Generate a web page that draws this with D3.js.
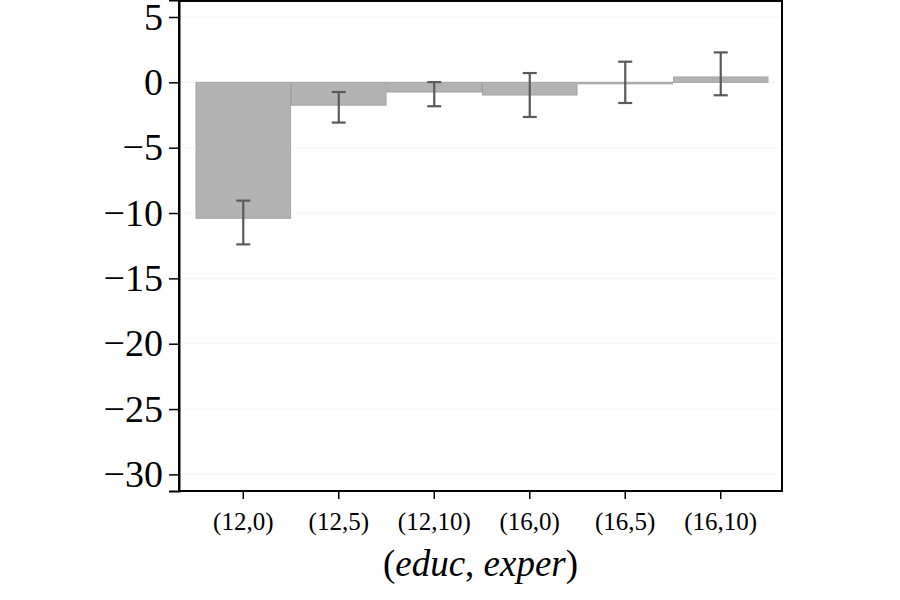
<!DOCTYPE html>
<html>
<head>
<meta charset="utf-8">
<script src="https://cdn.jsdelivr.net/npm/d3@7"></script>
<style>
  body { margin: 0; background: #fff; }
  text { font-family: "Liberation Serif", "DejaVu Serif", serif; }
</style>
</head>
<body>
<svg class="svg-main" width="900" height="600"></svg>
<script>
const categories = ["(12,0)", "(12,5)", "(12,10)", "(16,0)", "(16,5)", "(16,10)"];
const effects = [-10.4, -1.75, -0.74, -0.97, -0.05, 0.41];
const ciLow = [-12.4, -3.08, -1.83, -2.65, -1.58, -0.99];
const ciHigh = [-9.05, -0.74, 0.02, 0.71, 1.58, 2.29];
const yTicks = [5, 0, -5, -10, -15, -20, -25, -30];

const svg = d3.select(".svg-main");

const frame = { left: 179, right: 782, top: 1, bottom: 491 };

const x = d3.scaleBand()
  .domain(categories)
  .range([196, 768])
  .paddingInner(0.01);

const y = d3.scaleLinear()
  .domain([-31.27, 6.3])
  .range([frame.bottom, 0]);

const rows = categories.map((c, i) => ({
  cat: c, value: effects[i], lo: ciLow[i], hi: ciHigh[i]
}));

// grid
svg.append("g")
  .selectAll("line")
  .data(yTicks)
  .enter().append("line")
    .attr("x1", frame.left + 6)
    .attr("x2", frame.right - 3)
    .attr("y1", (d) => y(d))
    .attr("y2", (d) => y(d))
    .attr("stroke", "#d9d9d9")
    .attr("stroke-width", 1)
    .attr("stroke-dasharray", "1,3");

// bars
svg.append("g")
  .selectAll("rect")
  .data(rows)
  .enter().append("rect")
    .attr("x", (d) => x(d.cat))
    .attr("width", x.bandwidth())
    .attr("y", (d) => y(Math.max(0, d.value)))
    .attr("height", (d) => Math.max(1.5, Math.abs(y(d.value) - y(0))))
    .attr("fill", "#b3b3b3")
    .attr("stroke", "#a3a3a3")
    .attr("stroke-width", 1);

// error bars
const err = svg.append("g")
  .attr("stroke", "#5a5a5a")
  .attr("stroke-width", 2.2)
  .selectAll("g")
  .data(rows)
  .enter().append("g")
    .attr("transform", (d) => `translate(${x(d.cat) + x.bandwidth() / 2},0)`);

err.append("line")
  .attr("y1", (d) => y(d.lo))
  .attr("y2", (d) => y(d.hi));
err.append("line")
  .attr("x1", -7).attr("x2", 7)
  .attr("y1", (d) => y(d.lo)).attr("y2", (d) => y(d.lo));
err.append("line")
  .attr("x1", -7).attr("x2", 7)
  .attr("y1", (d) => y(d.hi)).attr("y2", (d) => y(d.hi));

// frame
svg.append("rect")
  .attr("x", frame.left)
  .attr("y", frame.top)
  .attr("width", frame.right - frame.left)
  .attr("height", frame.bottom - frame.top)
  .attr("fill", "none")
  .attr("stroke", "#000")
  .attr("stroke-width", 2);

// y axis
const yAxis = svg.append("g")
  .attr("transform", `translate(${frame.left},0)`)
  .call(d3.axisLeft(y)
    .tickValues(yTicks)
    .tickSize(10)
    .tickPadding(6)
    .tickFormat((d) => d < 0 ? "\u2212" + Math.abs(d) : d));
yAxis.select(".domain").attr("stroke-width", 2);
yAxis.selectAll(".tick line").attr("stroke-width", 1.5);
yAxis.selectAll("text")
  .attr("font-size", 38)
  .attr("fill", "#000")
  .style("font-family", "'Liberation Serif', serif");

// x axis
const xAxis = svg.append("g")
  .attr("transform", `translate(0,${frame.bottom})`)
  .call(d3.axisBottom(x).tickSize(8).tickPadding(13));
xAxis.select(".domain").remove();
xAxis.selectAll(".tick line").attr("stroke-width", 1.5);
xAxis.selectAll("text")
  .attr("font-size", 25)
  .attr("fill", "#000")
  .style("font-family", "'Liberation Serif', serif");

// x title
const title = svg.append("text")
  .attr("x", (frame.left + frame.right) / 2)
  .attr("y", 576)
  .attr("text-anchor", "middle")
  .attr("font-size", 37);
title.append("tspan").text("(");
title.append("tspan").attr("font-style", "italic").text("educ");
title.append("tspan").text(", ");
title.append("tspan").attr("font-style", "italic").text("exper");
title.append("tspan").text(")");
</script>
</body>
</html>
